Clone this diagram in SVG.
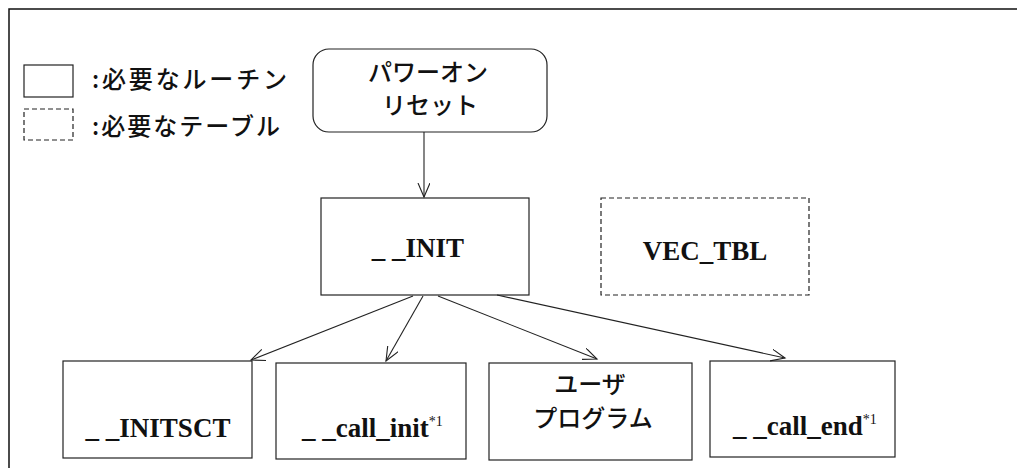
<svg xmlns="http://www.w3.org/2000/svg" width="1017" height="468" viewBox="0 0 1017 468">
<defs>
<style>
.box{fill:#fff;stroke:#222;stroke-width:1.2}
.dash{fill:#fff;stroke:#222;stroke-width:1.2;stroke-dasharray:5,3}
.jp{font-family:"Noto Sans CJK JP","Noto Sans",sans-serif;font-size:24px;font-weight:500;fill:#111}
.lb{font-family:"Liberation Serif","Times New Roman",serif;font-weight:bold;font-size:27px;fill:#111}
.sup{font-family:"Liberation Serif","Times New Roman",serif;font-size:14px;font-weight:normal;fill:#111}
.con{stroke:#222;stroke-width:1.1;fill:none;marker-end:url(#arr)}
</style>
<marker id="arr" markerUnits="userSpaceOnUse" markerWidth="16" markerHeight="16" viewBox="0 0 16 16" refX="14" refY="6" orient="auto">
<path d="M0,0 L14,6 L0,12" fill="none" stroke="#222" stroke-width="1.1"/>
</marker>
</defs>
<rect width="1017" height="468" fill="#fff"/>
<g id="frame">
<path d="M9,468 L9,9 L1017,9" fill="none" stroke="#111" stroke-width="1.5"/>
</g>
<g id="legend">
<rect class="box" x="24" y="65" width="49" height="32"/>
<text class="jp" x="92" y="88" textLength="195" lengthAdjust="spacing">:必要なルーチン</text>
<rect class="dash" x="24" y="109" width="49" height="31" stroke-dasharray="4,2"/>
<text class="jp" x="92" y="135" textLength="188" lengthAdjust="spacing">:必要なテーブル</text>
</g>
<g id="poweron">
<rect class="box" x="313" y="49" width="234" height="83" rx="16"/>
<text class="jp" x="428" y="81" text-anchor="middle" font-size="23.5">パワーオン</text>
<text class="jp" x="430" y="114" text-anchor="middle" font-size="23.5">リセット</text>
</g>
<g id="init">
<rect class="box" x="321" y="198" width="208" height="97"/>
<text class="lb" x="418" y="257" text-anchor="middle">_ _INIT</text>
</g>
<g id="vectbl">
<rect class="dash" x="601" y="198" width="208" height="97"/>
<text class="lb" x="705" y="260" text-anchor="middle" font-size="26">VEC_TBL</text>
</g>
<g id="initsct">
<rect class="box" x="63" y="361" width="189" height="97"/>
<text class="lb" x="158" y="437" text-anchor="middle">_ _INITSCT</text>
</g>
<g id="callinit">
<rect class="box" x="276" y="363" width="190" height="96"/>
<text class="lb" x="302" y="437">_ _call_init<tspan class="sup" dy="-11">*1</tspan></text>
</g>
<g id="userprog">
<rect class="box" x="489" y="363" width="203" height="97"/>
<text class="jp" x="590" y="393" text-anchor="middle">ユーザ</text>
<text class="jp" x="593" y="427" text-anchor="middle">プログラム</text>
</g>
<g id="callend">
<rect class="box" x="710" y="361" width="185" height="96"/>
<text class="lb" x="733" y="435">_ _call_end<tspan class="sup" dy="-11">*1</tspan></text>
</g>
<g id="connectors">
<line class="con" x1="424" y1="132" x2="424" y2="197"/>
<line class="con" x1="413" y1="296" x2="251" y2="360"/>
<line class="con" x1="423" y1="296" x2="386" y2="361"/>
<line class="con" x1="438" y1="296" x2="597" y2="359"/>
<line class="con" x1="497" y1="295" x2="785" y2="358"/>
</g>
</svg>
